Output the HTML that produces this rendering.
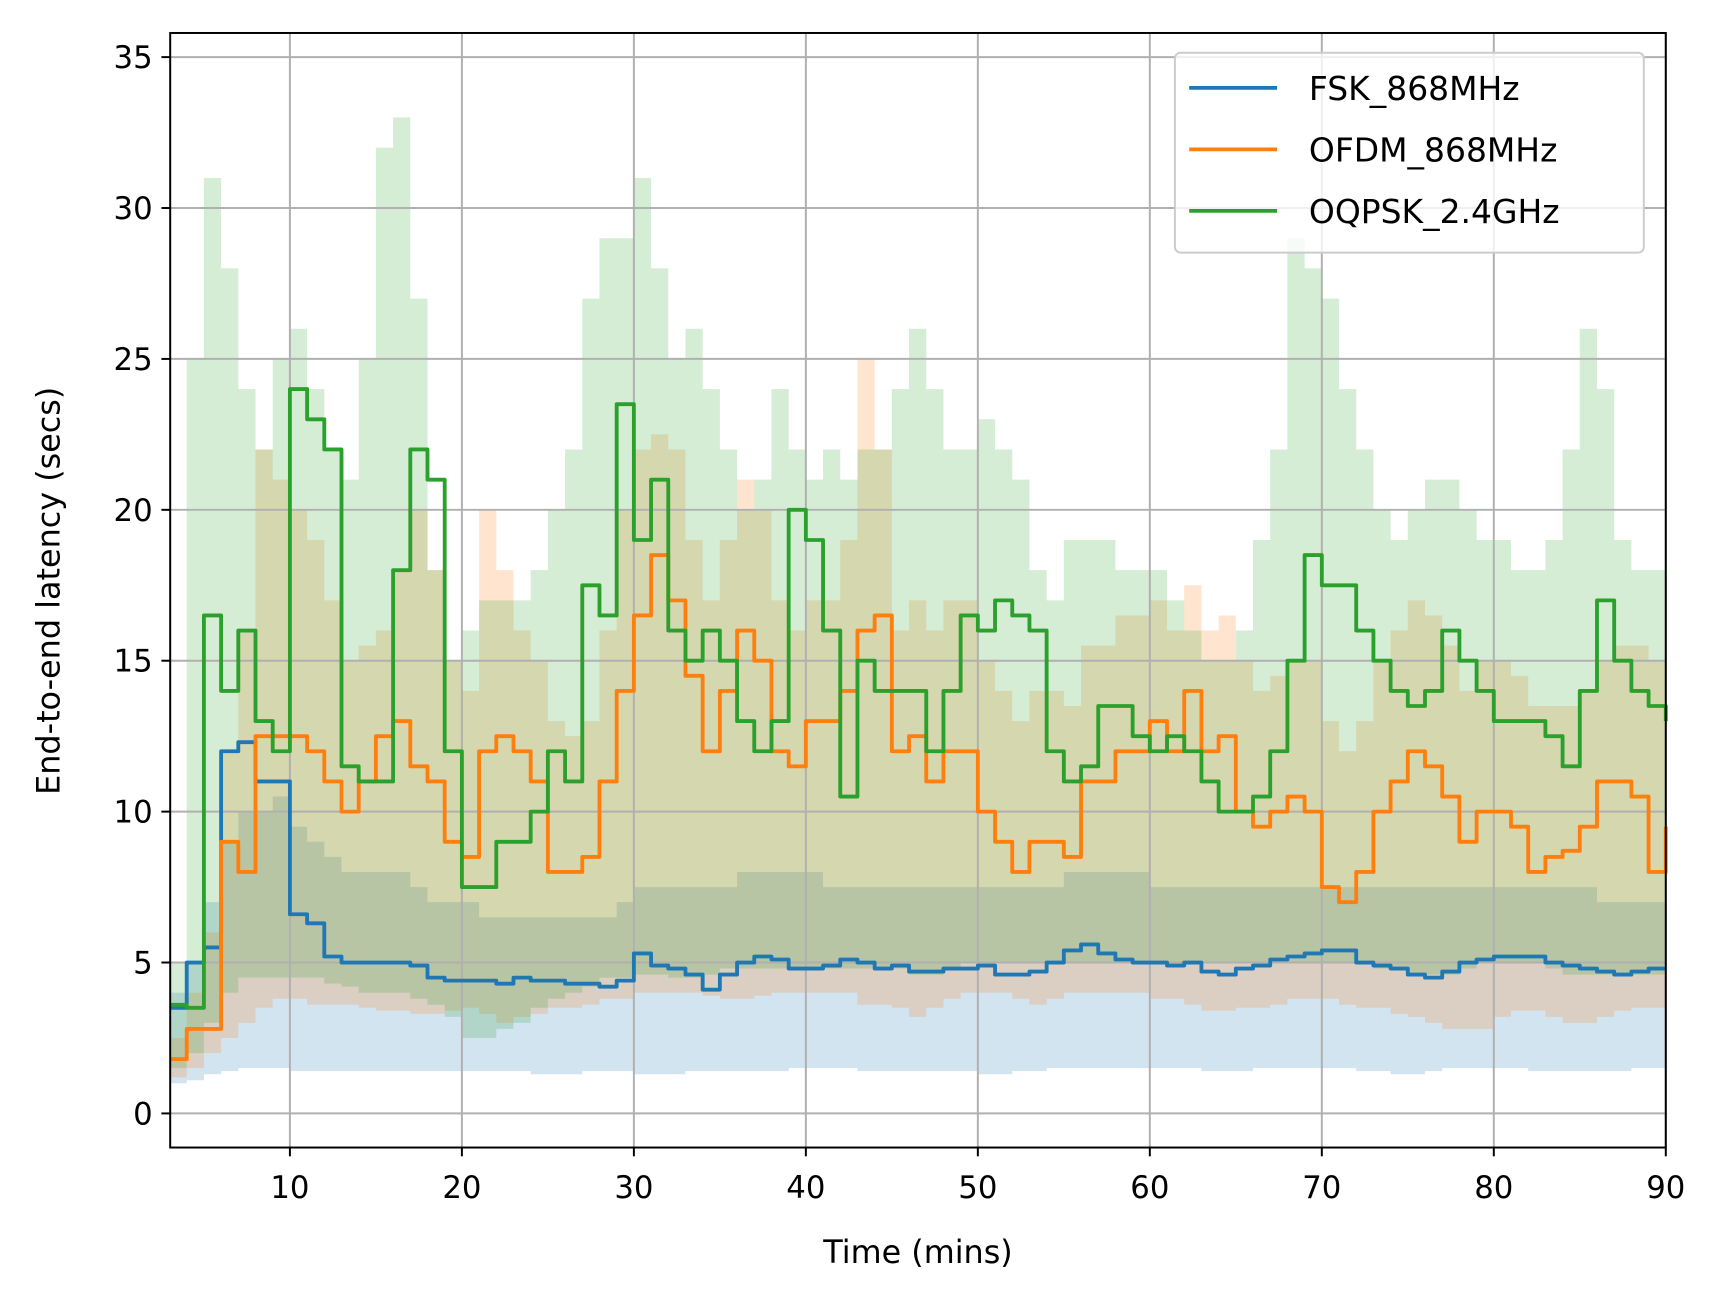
<!DOCTYPE html>
<html><head><meta charset="utf-8"><style>
html,body{margin:0;padding:0;background:#fff}
svg{display:block;font-family:"DejaVu Sans","Liberation Sans",sans-serif}
</style></head><body>
<svg id="chart" width="1713" height="1298" viewBox="0 0 1560 1182" xmlns="http://www.w3.org/2000/svg">
<rect width="1560" height="1182" fill="#fff"/>
<g id="bands"></g><g id="grid"></g><g id="lines"></g><g id="axes"></g>
</svg>
<script>
const times=[];for(let t=3;t<=90;t++)times.push(t);
const fskMean=[3.5,5,5.5,12,12.3,11,11,6.6,6.3,5.2,5,5,5,5,4.9,4.5,4.4,4.4,4.4,4.3,4.5,4.4,4.4,4.3,4.3,4.2,4.4,5.3,4.9,4.8,4.6,4.1,4.6,5,5.2,5.1,4.8,4.8,4.9,5.1,5,4.8,4.9,4.7,4.7,4.8,4.8,4.9,4.6,4.6,4.7,5,5.4,5.6,5.3,5.1,5,5,4.9,5,4.7,4.6,4.8,4.9,5.1,5.2,5.3,5.4,5.4,5,4.9,4.8,4.6,4.5,4.7,5,5.1,5.2,5.2,5.2,5,4.9,4.8,4.7,4.6,4.7,4.8,4.8];
const fskLow=[1,1.1,1.3,1.4,1.5,1.5,1.5,1.4,1.4,1.4,1.4,1.4,1.4,1.4,1.4,1.4,1.4,1.4,1.4,1.4,1.4,1.3,1.3,1.3,1.4,1.4,1.4,1.3,1.3,1.3,1.4,1.4,1.4,1.4,1.4,1.4,1.5,1.5,1.5,1.5,1.4,1.4,1.4,1.4,1.4,1.4,1.4,1.3,1.3,1.4,1.4,1.5,1.5,1.5,1.5,1.5,1.5,1.5,1.5,1.5,1.4,1.4,1.4,1.5,1.5,1.5,1.5,1.5,1.5,1.4,1.4,1.3,1.3,1.4,1.5,1.5,1.5,1.5,1.5,1.4,1.4,1.4,1.4,1.4,1.4,1.5,1.5,1.5];
const fskHigh=[4,5,7,9,10,10,10.5,9.5,9,8.5,8,8,8,8,7.5,7,7,7,6.5,6.5,6.5,6.5,6.5,6.5,6.5,6.5,7,7.5,7.5,7.5,7.5,7.5,7.5,8,8,8,8,8,7.5,7.5,7.5,7.5,7.5,7.5,7.5,7.5,7.5,7.5,7.5,7.5,7.5,7.5,8,8,8,8,8,7.5,7.5,7.5,7.5,7.5,7.5,7.5,7.5,7.5,7.5,7.5,7.5,7.5,7.5,7.5,7.5,7.5,7.5,7.5,7.5,7.5,7.5,7.5,7.5,7.5,7.5,7,7,7,7,7];
const ofdmMean=[1.8,2.8,2.8,9,8,12.5,12.5,12.5,12,11,10,11,12.5,13,11.5,11,9,8.5,12,12.5,12,11,8,8,8.5,11,14,16.5,18.5,17,14.5,12,14,16,15,12,11.5,13,13,14,16,16.5,12,12.5,11,12,12,10,9,8,9,9,8.5,11,11,12,12,13,12,14,12,12.5,10,9.5,10,10.5,10,7.5,7,8,10,11,12,11.5,10.5,9,10,10,9.5,8,8.5,8.7,9.5,11,11,10.5,8,9.5,10,10.5].slice(0,88);
const ofdmLow=[1.2,1.5,2,2.5,3,3.5,3.8,3.8,3.6,3.6,3.6,3.5,3.4,3.4,3.3,3.3,3.4,3.5,3.3,3,3.2,3.3,3.5,3.5,3.6,3.8,3.8,4,4,4,4,3.9,3.8,3.8,3.9,4,4,4,4,4,3.6,3.6,3.5,3.2,3.5,3.8,4,4,4,3.8,3.6,3.8,4,4,4,4,4,3.8,3.8,3.6,3.4,3.4,3.5,3.5,3.6,3.8,3.8,3.8,3.6,3.5,3.5,3.3,3.2,3,2.8,2.8,2.8,3.2,3.4,3.4,3.2,3,3,3.2,3.4,3.5,3.5,3.5];
const ofdmHigh=[2.5,4,6,12,16,22,21,20,19,17,15,15.5,16,18,20,18,15,14,20,18,16,15,13,12.5,13,16,20,22,22.5,22,19,17,19,21,20,17,16,17,17,19,25,22,16,17,16,17,17,15,14,13,14,14,13.5,15.5,15.5,16.5,16.5,17,16,17.5,16,16.5,15,14,14.5,15,15,13,12,13,15,16,17,16.5,15.5,14,15,15,14.5,13.5,13.5,13.5,14,15,15.5,15.5,15,15].slice(0,88);
const oqpskMean=[3.6,3.5,16.5,14,16,13,12,24,23,22,11.5,11,11,18,22,21,12,7.5,7.5,9,9,10,12,11,17.5,16.5,23.5,19,21,16,15,16,15,13,12,13,20,19,16,10.5,15,14,14,14,12,14,16.5,16,17,16.5,16,12,11,11.5,13.5,13.5,12.5,12,12.5,12,11,10,10,10.5,12,15,18.5,17.5,17.5,16,15,14,13.5,14,16,15,14,13,13,13,12.5,11.5,14,17,15,14,13.5,13].slice(0,88);
const oqpskLow=[1.5,2,3,4,4.5,4.5,4.5,4.5,4.5,4.3,4.2,4,4,4,3.8,3.6,3.2,2.5,2.5,2.8,3,3.5,3.8,4,4.2,4.5,4.5,4.6,4.6,4.5,4.5,4.6,4.8,4.8,4.8,4.8,4.8,4.8,4.8,4.8,4.8,4.8,4.8,4.6,4.6,4.8,5,5,5,5,5,5,5,5,5,5,5,5,5,5,5,5,5,5,5,5,5,5,5,5,4.8,4.8,4.6,4.6,4.6,4.8,5,5,5,5,4.8,4.6,4.6,4.6,4.6,4.6,4.6,4.6];
const oqpskHigh=[5,25,31,28,24,22,25,26,24,22,21,25,32,33,27,18,15,16,17,17,17,18,20,22,27,29,29,31,28,25,26,24,22,20,21,24,22,21,22,21,22,22,24,26,24,22,22,23,22,21,18,17,19,19,19,18,18,18,17,16,15,15,16,19,22,29,28,27,24,22,20,19,20,21,21,20,19,19,18,18,19,22,26,24,19,18,18,18];
const yTicks=[0,5,10,15,20,25,30,35];
const xTicks=[10,20,30,40,50,60,70,80,90];
const seriesNames=["FSK_868MHz","OFDM_868MHz","OQPSK_2.4GHz"];
const colors=["#1f77b4","#ff7f0e","#2ca02c"];

const L=155,R=1517,T=30,B=1045,X0=3.04,X1=90,Y0=-1.13,Y1=35.8;
const sx=t=>L+(t-X0)/(X1-X0)*(R-L);
const sy=v=>B-(v-Y0)/(Y1-Y0)*(B-T);
const NS="http://www.w3.org/2000/svg";
function mk(tag,parent){const e=document.createElementNS(NS,tag);document.getElementById(parent).appendChild(e);return e;}
function stepPts(vals){let p=[];for(let i=0;i<vals.length;i++){const x0=sx(times[i]),x1=sx(i+1<times.length?times[i+1]:times[i]);p.push(x0+","+sy(vals[i]),x1+","+sy(vals[i]));}return p;}
const bands=[[fskLow,fskHigh],[ofdmLow,ofdmHigh],[oqpskLow,oqpskHigh]];
const means=[fskMean,ofdmMean,oqpskMean];
bands.forEach((b,k)=>{
  const up=stepPts(b[1]),lo=stepPts(b[0]).reverse();
  const p=mk("polygon","bands");
  
  
  p.setAttribute("points",up.concat(lo).join(" "));
  p.setAttribute("fill",colors[k]);p.setAttribute("fill-opacity","0.2");
});
yTicks.forEach(v=>{
  const l=mk("line","grid");
  
  
  l.setAttribute("x1",L);l.setAttribute("x2",R);l.setAttribute("y1",sy(v));l.setAttribute("y2",sy(v));
  l.setAttribute("stroke","#b0b0b0");l.setAttribute("stroke-width","1.8");
  const tk=mk("line","axes");tk.setAttribute("x1",L-8);tk.setAttribute("x2",L);tk.setAttribute("y1",sy(v));tk.setAttribute("y2",sy(v));tk.setAttribute("stroke","#000");tk.setAttribute("stroke-width","1.8");
  const tx=mk("text","axes");
  
  
  tx.setAttribute("x",L-16);tx.setAttribute("y",sy(v)+10);tx.setAttribute("text-anchor","end");tx.setAttribute("font-size","28");tx.textContent=v;
});
xTicks.forEach(v=>{
  const l=mk("line","grid");
  
  
  l.setAttribute("y1",T);l.setAttribute("y2",B);l.setAttribute("x1",sx(v));l.setAttribute("x2",sx(v));
  l.setAttribute("stroke","#b0b0b0");l.setAttribute("stroke-width","1.8");
  const tk=mk("line","axes");tk.setAttribute("y1",B);tk.setAttribute("y2",B+8);tk.setAttribute("x1",sx(v));tk.setAttribute("x2",sx(v));tk.setAttribute("stroke","#000");tk.setAttribute("stroke-width","1.8");
  const tx=mk("text","axes");
  
  
  tx.setAttribute("x",sx(v));tx.setAttribute("y",B+46);tx.setAttribute("text-anchor","middle");tx.setAttribute("font-size","28");tx.textContent=v;
});
means.forEach((m,k)=>{
  const p=mk("polyline","lines");
  
  
  p.setAttribute("points",stepPts(m).join(" "));p.setAttribute("fill","none");
  p.setAttribute("stroke",colors[k]);p.setAttribute("stroke-width","3.5");p.setAttribute("stroke-linejoin","round");
});
const fr=mk("rect","axes");


fr.setAttribute("x",L);fr.setAttribute("y",T);fr.setAttribute("width",R-L);fr.setAttribute("height",B-T);fr.setAttribute("fill","none");fr.setAttribute("stroke","#000");fr.setAttribute("stroke-width","1.8");
const lg=mk("rect","axes");


lg.setAttribute("x",1070);lg.setAttribute("y",48);lg.setAttribute("width",427);lg.setAttribute("height",182);lg.setAttribute("rx",5);lg.setAttribute("fill","#fff");lg.setAttribute("fill-opacity","0.8");lg.setAttribute("stroke","#ccc");lg.setAttribute("stroke-width","1.8");
seriesNames.forEach((n,k)=>{
  const y=80+k*56;
  const l=mk("line","axes");
  
  
  l.setAttribute("x1",1083);l.setAttribute("x2",1163);l.setAttribute("y1",y);l.setAttribute("y2",y);l.setAttribute("stroke",colors[k]);l.setAttribute("stroke-width","3.5");
  const t=mk("text","axes");
  
  
  t.setAttribute("x",1192);t.setAttribute("y",y+11);t.setAttribute("font-size","30");t.textContent=n;
});
const xl=mk("text","axes");


xl.setAttribute("x",836);xl.setAttribute("y",1150);xl.setAttribute("text-anchor","middle");xl.setAttribute("font-size","29");xl.textContent="Time (mins)";
const yl=mk("text","axes");


yl.setAttribute("transform","translate(54,538) rotate(-90)");yl.setAttribute("text-anchor","middle");yl.setAttribute("font-size","29");yl.textContent="End-to-end latency (secs)";
</script>
</body></html>
